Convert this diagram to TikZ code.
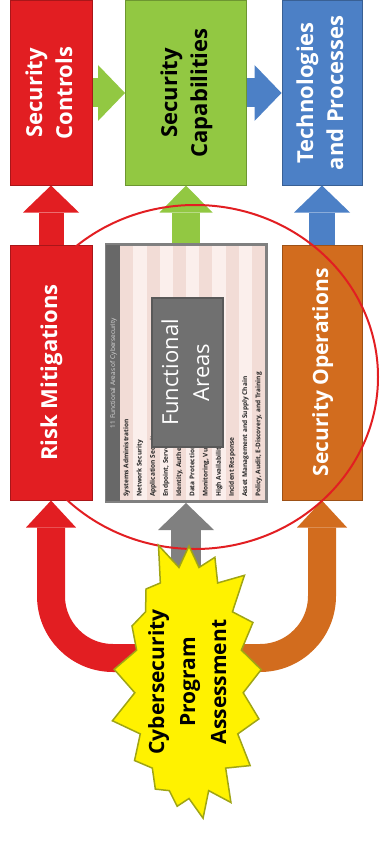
\documentclass[tikz,border=0pt]{standalone}
\usepackage{fontspec}
\setmainfont{Open Sans}
\usetikzlibrary{arrows.meta,shapes.symbols}

\definecolor{ctrlred}{RGB}{226,30,34}
\definecolor{capgreen}{RGB}{146,200,66}
\definecolor{techblue}{RGB}{76,128,198}
\definecolor{opsorange}{RGB}{210,108,30}
\definecolor{areagray}{RGB}{128,128,128}
\definecolor{darkgray}{RGB}{104,104,104}
\definecolor{burstyellow}{RGB}{255,242,0}
\definecolor{burstedge}{RGB}{160,165,20}
\definecolor{stripeA}{RGB}{242,220,214}
\definecolor{stripeB}{RGB}{251,239,236}

% text that reads from bottom to top
\newcommand{\uptext}[1]{\rotatebox{90}{\begin{tabular}{@{}c@{}}#1\end{tabular}}}

\tikzset{
  box/.style={draw=#1!75!black, fill=#1, line width=1pt, inner sep=0pt,
    text=white, font=\fontsize{22}{30}\selectfont\bfseries},
  blockarrow/.style={line width=28pt, -{Triangle[length=27pt, width=56pt, line width=0pt]}},
  arealabel/.style={rotate=90, anchor=west, inner sep=0pt, text=black!85,
    font=\fontsize{6.5}{7}\selectfont\bfseries},
}

\begin{document}
\begin{tikzpicture}[x=1pt, y=-1pt]
    \useasboundingbox (0,0) rectangle (381,845);
    % upper row
    \node[box=ctrlred, minimum width=82pt, minimum height=184pt] (controls) at (51,93) {\uptext{Security\\Controls}};
    \node[box=capgreen, text=black, minimum width=121pt, minimum height=184pt] (capab) at (186,93) {\uptext{Security\\Capabilities}};
    \node[box=techblue, minimum width=80pt, minimum height=184pt] (tech) at (322,93) {\uptext{Technologies\\and Processes}};
    % middle row
    \node[box=ctrlred, minimum width=82pt, minimum height=255pt] (risk) at (51,372.5) {\uptext{Risk Mitigations}};
    \node[box=opsorange, font=\fontsize{21}{30}\selectfont\bfseries, minimum width=80pt, minimum height=255pt] (ops) at (322,372.5) {\uptext{Security Operations}};
    % table of the functional areas
    \node[draw=areagray, line width=3pt, fill=stripeB, minimum width=160pt, minimum height=257pt] (panel) at (186,373) {};
    \foreach \i in {1,3,...,11} {
        \fill[stripeA] (107+13.2*\i,246) rectangle (120+13.2*\i,500);
    }
    \fill[darkgray] (106,245) rectangle (120,501);
    \node[rotate=90, inner sep=0pt, text=white!85!black, font=\fontsize{6.5}{7}\selectfont] (title) at (113.5,373) {11 Functional Areas of Cybersecurity};
    \foreach \i/\area in {1/Systems Administration, 2/Network Security, 3/Application Security,
        4/{Endpoint, Server, and Device Security}, 5/{Identity, Authentication, and Access Management},
        6/Data Protection and Cryptography, 7/{Monitoring, Vulnerability, and Patch Management},
        8/{High Availability, Disaster Recovery, and Physical Protection}, 9/Incident Response,
        10/Asset Management and Supply Chain, 11/{Policy, Audit, E-Discovery, and Training}} {
        \node[arealabel] (area\i) at (113.5+13.2*\i,497) {\area};
    }
    \node[draw=black!65, fill=darkgray!95, line width=1.5pt, text=white, inner sep=0pt,
        font=\fontsize{22}{31}\selectfont, minimum width=71pt, minimum height=149pt] (areas) at (187.5,372.5) {\uptext{Functional\\Areas}};
    % arrows between the boxes
    \draw[blockarrow, capgreen, line width=29pt] (controls.east) -- (capab.west);
    \draw[blockarrow, techblue, line width=29pt] (capab.east) -- (tech.west);
    \draw[blockarrow, ctrlred, line width=25pt] (risk.north) -- (controls.south);
    \draw[blockarrow, capgreen, -{Triangle[length=27pt, width=53pt, line width=0pt]}] (panel.north) -- (capab.south);
    \draw[blockarrow, techblue, line width=26pt] (ops.north) -- (tech.south);
    % arrows out of the assessment
    \coordinate (riskfeed) at (160,658);
    \coordinate (graystart) at (186,620);
    \coordinate (opsfeed) at (215,658);
    \draw[blockarrow, ctrlred, rounded corners=62pt, -{Triangle[length=27pt, width=50pt, line width=0pt]}] (riskfeed) -| (risk.south);
    \draw[blockarrow, opsorange, rounded corners=62pt, -{Triangle[length=27pt, width=50pt, line width=0pt]}] (opsfeed) -| (ops.south);
    \draw[blockarrow, areagray, line width=30pt] (graystart) -- (panel.south);
    % circle round the middle
    \draw[ctrlred, line width=2pt] (195,377) ellipse [x radius=183, y radius=172];
    \node[starburst, starburst points=17, starburst point height=32pt, random starburst=5,
        fill=burstyellow, draw=burstedge, line width=1.5pt, inner xsep=-8pt, inner ysep=0pt,
        minimum width=172pt, minimum height=297pt,
        font=\fontsize{21}{31}\selectfont\bfseries] (burst) at (189,682) {\uptext{Cybersecurity\\Program\\Assessment}};
\end{tikzpicture}
\end{document}
